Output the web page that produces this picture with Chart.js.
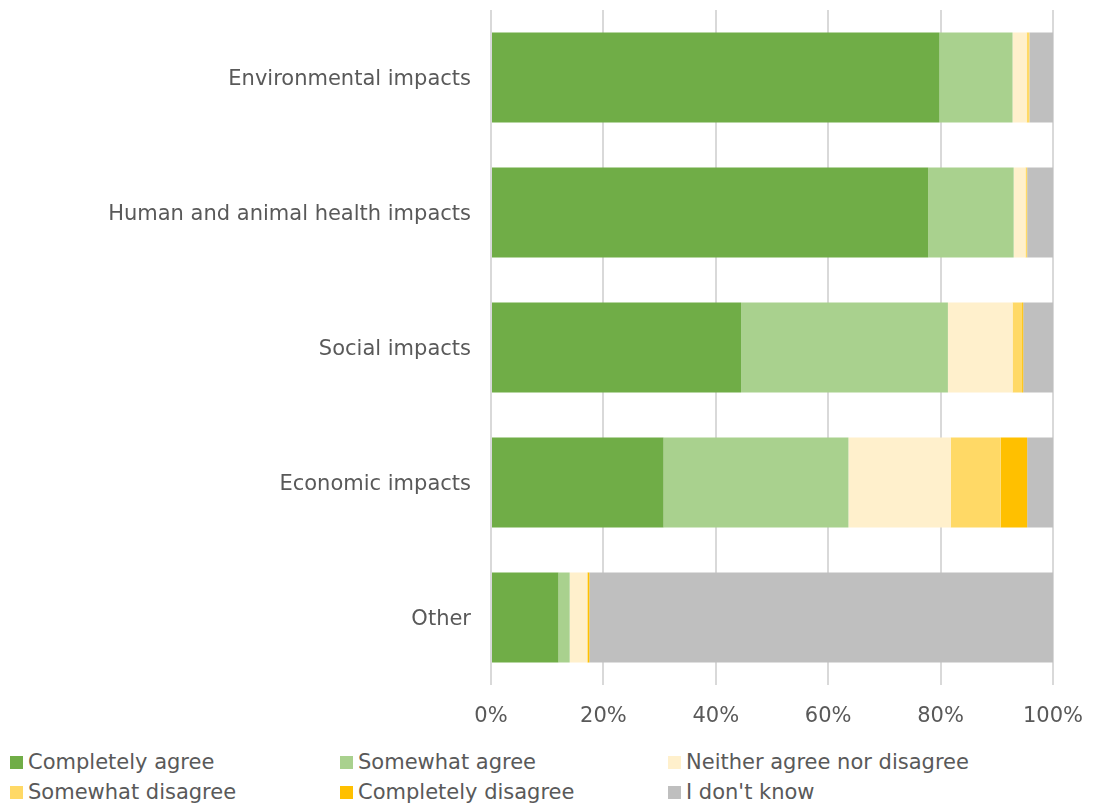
<!DOCTYPE html>
<html>
<head>
<meta charset="utf-8">
<script src="https://cdn.jsdelivr.net/npm/chart.js@4/dist/chart.umd.min.js"></script>
<style>
  html, body { margin: 0; padding: 0; background: #fff; }
  #wrap { position: relative; width: 1094px; height: 745px; }
  #legend { position: absolute; left: 0; top: 745px; width: 1094px; font-family: Verdana, "DejaVu Sans", sans-serif; font-size: 21px; color: #595959; }
  .li { position: absolute; white-space: nowrap; line-height: 24px; }
  .sw { display: inline-block; width: 13px; height: 13px; margin-right: 5px; vertical-align: 0px; }
</style>
</head>
<body>
<div id="wrap"><canvas id="c" width="1094" height="745"></canvas></div>
<div id="legend"></div>
<script>
const categories = ["Environmental impacts", "Human and animal health impacts", "Social impacts", "Economic impacts", "Other"];
const seriesNames = ["Completely agree", "Somewhat agree", "Neither agree nor disagree", "Somewhat disagree", "Completely disagree", "I don't know"];
const completelyAgree    = [79.8, 77.8, 44.5, 30.7, 12.0];
const somewhatAgree      = [13.0, 15.2, 36.8, 32.9, 2.0];
const neither            = [2.5, 2.1, 11.5, 18.2, 3.1];
const somewhatDisagree   = [0.5, 0.3, 1.7, 8.9, 0.1];
const completelyDisagree = [0.0, 0.0, 0.2, 4.7, 0.3];
const dontKnow           = [4.2, 4.6, 5.3, 4.6, 82.5];
const tickLabels = ["0%", "20%", "40%", "60%", "80%", "100%"];
const colors = ["#70ad47", "#a9d18e", "#fff0cc", "#ffd966", "#ffc000", "#bfbfbf"];

const values = [completelyAgree, somewhatAgree, neither, somewhatDisagree, completelyDisagree, dontKnow];
const FONT = 'Verdana, "DejaVu Sans", sans-serif';

const chart = new Chart(document.getElementById('c'), {
  type: 'bar',
  data: {
    labels: categories,
    datasets: seriesNames.map((n, i) => ({
      label: n,
      data: values[i],
      backgroundColor: colors[i],
      borderWidth: 0,
      barPercentage: 0.667,
      categoryPercentage: 1.0
    }))
  },
  options: {
    indexAxis: 'y',
    responsive: false,
    animation: false,
    layout: { padding: { left: 0, right: 41, top: 10, bottom: 0 } },
    plugins: { legend: { display: false }, tooltip: { enabled: false } },
    scales: {
      x: {
        stacked: true,
        min: 0, max: 100,
        ticks: {
          stepSize: 20,
          color: '#595959',
          font: { family: FONT, size: 21 },
          padding: 19,
          maxRotation: 0,
          callback: (v, i) => tickLabels[i]
        },
        grid: { color: '#d9d9d9', lineWidth: 2, drawTicks: false },
        border: { display: false },
        afterFit: s => { s.height = 60; s.paddingLeft = 0; s.paddingRight = 0; s.paddingTop = 0; s.paddingBottom = 0; }
      },
      y: {
        stacked: true,
        ticks: { color: '#595959', font: { family: FONT, size: 21 }, padding: 20, labelOffset: 2 },
        grid: { display: false, drawTicks: false },
        border: { display: false },
        afterFit: s => { s.width = 491; s.paddingTop = 0; s.paddingBottom = 0; s.paddingLeft = 0; s.paddingRight = 0; }
      }
    }
  }
});

const lg = document.getElementById('legend');
const cols = [10, 340, 668];
seriesNames.forEach((n, i) => {
  const d = document.createElement('div');
  d.className = 'li';
  d.style.left = cols[i % 3] + 'px';
  d.style.top = (5 + Math.floor(i / 3) * 30) + 'px';
  d.innerHTML = '<span class="sw" style="background:' + colors[i] + '"></span>' + n;
  lg.appendChild(d);
});
</script>
</body>
</html>
